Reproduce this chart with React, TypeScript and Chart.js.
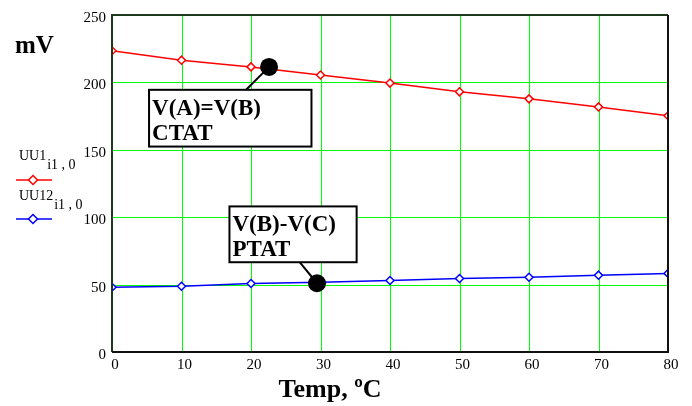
import React, { useEffect, useRef } from "react";
import { Chart, registerables } from "chart.js";

Chart.register(...registerables);

const temps = [0, 10, 20, 30, 40, 50, 60, 70, 80];
const ctat = [223.5, 216.5, 211.5, 205.5, 199.5, 193, 187.8, 181.8, 175.3];
const ptat = [48, 48.8, 50.8, 51.8, 53, 54.5, 55.5, 57, 58.3];
const xTicks = [0, 10, 20, 30, 40, 50, 60, 70, 80];
const yTicks = [0, 50, 100, 150, 200, 250];
const seriesNames = ["UU1", "UU12"];
const seriesSubs = ["i1 , 0", "i1 , 0"];
const seriesColors = ["#ff0000", "#0000ff"];
const yTitle = "mV";
const xTitle = "Temp, ºC";
// annotations in data space: anchor dot, box corners, leader start x, text lines
const notes = [
  { ax: 22.6, ay: 211.5, bx: 5.33, by: 194.5, bx2: 28.7, by2: 152.4, lx: 19.3, fromTop: true, lines: ["V(A)=V(B)", "CTAT"] },
  { ax: 29.5, ay: 51, bx: 16.9, by: 108, bx2: 35.2, by2: 66.6, lx: 27.0, fromTop: false, lines: ["V(B)-V(C)", "PTAT"] },
];

const SERIF = "'Liberation Serif', 'Times New Roman', serif";

const gridPlugin = {
  id: "gridPlugin",
  beforeDatasetsDraw(chart: any) {
    const { ctx, scales, chartArea } = chart;
    ctx.save();
    ctx.strokeStyle = "#00ff00";
    ctx.lineWidth = 1;
    for (const v of xTicks) {
      const px = Math.round(scales.x.getPixelForValue(v)) + 0.5;
      ctx.beginPath();
      ctx.moveTo(px, chartArea.top);
      ctx.lineTo(px, chartArea.bottom);
      ctx.stroke();
    }
    for (const v of yTicks) {
      const py = Math.round(scales.y.getPixelForValue(v)) + 0.5;
      ctx.beginPath();
      ctx.moveTo(chartArea.left, py);
      ctx.lineTo(chartArea.right, py);
      ctx.stroke();
    }
    ctx.restore();
  },
};

const overlay = {
  id: "overlay",
  afterDraw(chart: any) {
    const { ctx, scales, chartArea } = chart;
    const x = scales.x, y = scales.y;
    const L = chartArea.left, R = chartArea.right, T = chartArea.top, B = chartArea.bottom;
    ctx.save();
    // plot border
    ctx.lineWidth = 2;
    ctx.strokeStyle = "#1c3a1c";
    ctx.beginPath();
    ctx.moveTo(L, B); ctx.lineTo(L, T); ctx.lineTo(R, T);
    ctx.stroke();
    ctx.strokeStyle = "#111";
    ctx.beginPath();
    ctx.moveTo(R, T); ctx.lineTo(R, B); ctx.lineTo(L, B);
    ctx.stroke();
    // titles
    ctx.fillStyle = "#000";
    ctx.font = `bold 25px ${SERIF}`;
    ctx.textBaseline = "alphabetic";
    ctx.textAlign = "left";
    ctx.fillText(yTitle, 15, 53);
    ctx.font = `bold 26px ${SERIF}`;
    ctx.textAlign = "center";
    ctx.fillText(xTitle, 330, 397);
    // legend
    for (let i = 0; i < seriesNames.length; i++) {
      const ty = 160 + i * 40;
      ctx.textAlign = "left";
      ctx.font = `14px ${SERIF}`;
      ctx.fillStyle = "#000";
      ctx.fillText(seriesNames[i], 19, ty);
      const w = ctx.measureText(seriesNames[i]).width;
      ctx.fillText(seriesSubs[i], 20 + w, ty + 9);
      const ly = ty + 20 - i;
      ctx.strokeStyle = seriesColors[i];
      ctx.lineWidth = 1.5;
      ctx.beginPath();
      ctx.moveTo(16, ly);
      ctx.lineTo(52, ly);
      ctx.stroke();
      ctx.fillStyle = "#fff";
      ctx.beginPath();
      ctx.moveTo(33, ly - 4.5);
      ctx.lineTo(37.5, ly);
      ctx.lineTo(33, ly + 4.5);
      ctx.lineTo(28.5, ly);
      ctx.closePath();
      ctx.fill();
      ctx.stroke();
    }
    // annotations
    for (const n of notes) {
      const ax = x.getPixelForValue(n.ax), ay = y.getPixelForValue(n.ay);
      const bx = x.getPixelForValue(n.bx), by = y.getPixelForValue(n.by);
      const bx2 = x.getPixelForValue(n.bx2), by2 = y.getPixelForValue(n.by2);
      const lx = x.getPixelForValue(n.lx);
      ctx.strokeStyle = "#000";
      ctx.lineWidth = 2;
      ctx.beginPath();
      ctx.moveTo(lx, n.fromTop ? by : by2);
      ctx.lineTo(ax, ay);
      ctx.stroke();
      ctx.fillStyle = "#fff";
      ctx.fillRect(bx, by, bx2 - bx, by2 - by);
      ctx.strokeRect(bx, by, bx2 - bx, by2 - by);
      ctx.fillStyle = "#000";
      ctx.font = `bold 23px ${SERIF}`;
      ctx.textAlign = "left";
      ctx.fillText(n.lines[0], bx + 3, by + 25);
      ctx.fillText(n.lines[1], bx + 3, by + 50);
      ctx.beginPath();
      ctx.arc(ax, ay, 9, 0, Math.PI * 2);
      ctx.fill();
    }
    ctx.restore();
  },
};

export default function App() {
  const ref = useRef<HTMLCanvasElement>(null);
  useEffect(() => {
    const mk = (vals: number[], color: string) => ({
      data: temps.map((t, i) => ({ x: t, y: vals[i] })),
      borderColor: color,
      backgroundColor: "#fff",
      borderWidth: 1.5,
      pointStyle: "rectRot",
      pointRadius: 4,
      pointBorderWidth: 1.5,
    });
    const chart = new Chart(ref.current!, {
      type: "line",
      data: { datasets: [mk(ctat, seriesColors[0]), mk(ptat, seriesColors[1])] },
      options: {
        responsive: false,
        animation: false,
        layout: { padding: { left: 0, right: 24, top: 15, bottom: 0 } },
        plugins: { legend: { display: false }, tooltip: { enabled: false } },
        scales: {
          x: {
            type: "linear",
            min: 0,
            max: 80,
            afterBuildTicks: (s: any) => { s.ticks = xTicks.map((v) => ({ value: v })); },
            afterFit: (s: any) => { s.height = 54; },
            grid: { display: false, drawTicks: false },
            border: { display: false },
            ticks: { color: "#000", font: { family: SERIF, size: 15 }, padding: 4, labelOffset: 3, maxRotation: 0 },
          },
          y: {
            min: 0,
            max: 250,
            afterBuildTicks: (s: any) => { s.ticks = yTicks.map((v) => ({ value: v })); },
            afterFit: (s: any) => { s.width = 112; },
            grid: { display: false, drawTicks: false },
            border: { display: false },
            ticks: { color: "#000", font: { family: SERIF, size: 15 }, padding: 6, labelOffset: 3 },
          },
        },
      },
      plugins: [gridPlugin, overlay],
    } as any);
    return () => chart.destroy();
  }, []);
  return (
    <div style={{ position: "fixed", left: 0, top: 0, width: 692, height: 406, background: "#fff" }}>
      <canvas ref={ref} width={692} height={406} />
    </div>
  );
}
